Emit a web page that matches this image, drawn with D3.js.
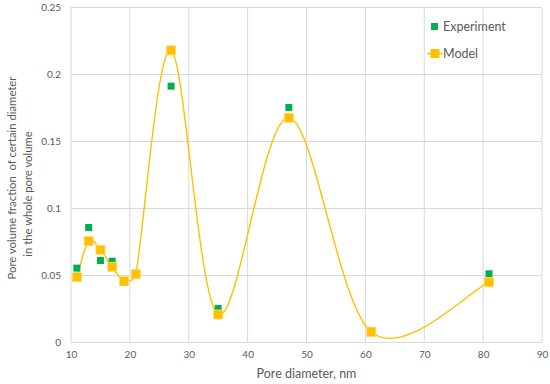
<!DOCTYPE html>
<html><head><meta charset="utf-8">
<script src="https://cdn.jsdelivr.net/npm/d3@7"></script>
<style>
html,body{margin:0;padding:0;background:#fff;}
svg text{font-family:Lato,"Open Sans",sans-serif;fill:#595959;}
</style></head>
<body><svg id="c" width="550" height="384"></svg>
<script>
const diameters = [11, 13, 15, 17, 19, 21, 27, 35, 47, 61, 81];
const experiment = [0.0555, 0.0858, 0.0612, 0.0607, 0.0448, 0.0505, 0.1913, 0.0254, 0.1754, 0.0090, 0.0513];
const model = [0.0488, 0.0757, 0.0692, 0.0565, 0.0458, 0.0510, 0.2180, 0.0209, 0.1677, 0.0078, 0.0450];
const xTicks = [10, 20, 30, 40, 50, 60, 70, 80, 90];
const yTicks = [0, 0.05, 0.1, 0.15, 0.2, 0.25];
const seriesNames = ["Experiment", "Model"];

const svg = d3.select("#c");
const m = {l: 71, r: 542, t: 7.5, b: 342.5};
const x = d3.scaleLinear().domain([10, 90]).range([m.l, m.r]);
const y = d3.scaleLinear().domain([0, 0.25]).range([m.b, m.t]);
const green = "#00B050", orange = "#FFC000";

// grid
const g = svg.append("g");
g.selectAll("line.v").data(xTicks).join("line")
  .attr("x1", d => x(d)).attr("x2", d => x(d)).attr("y1", m.t).attr("y2", m.b)
  .attr("stroke", "#d9d9d9").attr("stroke-width", 1);
g.selectAll("line.h").data(yTicks).join("line")
  .attr("y1", d => y(d)).attr("y2", d => y(d)).attr("x1", m.l).attr("x2", m.r)
  .attr("stroke", "#d9d9d9").attr("stroke-width", 1);

// axes labels
const xAxis = svg.append("g").attr("transform", `translate(0,${m.b})`)
  .call(d3.axisBottom(x).tickValues(xTicks).tickSize(0).tickPadding(8).tickFormat(d3.format("d")));
xAxis.select(".domain").remove();
xAxis.selectAll("text").attr("font-size", "10px").style("font-family", "Lato, 'Open Sans', sans-serif").attr("fill", "#595959");
const yAxis = svg.append("g").attr("transform", `translate(${m.l},0)`)
  .call(d3.axisLeft(y).tickValues(yTicks).tickSize(0).tickPadding(10).tickFormat(d => d === 0 ? "0" : String(d)));
yAxis.select(".domain").remove();
yAxis.selectAll("text").attr("font-size", "10px").style("font-family", "Lato, 'Open Sans', sans-serif").attr("fill", "#595959");

// model line: smoothed (Catmull-Rom style with control-length limiting, like a spreadsheet smooth line)
const pts = diameters.map((d, i) => [x(d), y(model[i])]);
function smoothPath(p) {
  const n = p.length, path = d3.path();
  const dist = (a, b) => Math.hypot(b[0] - a[0], b[1] - a[1]);
  const tan = i => {
    const a = p[Math.max(0, i - 1)], b = p[Math.min(n - 1, i + 1)];
    return [(b[0] - a[0]) / 6, (b[1] - a[1]) / 6];
  };
  const ctrl = (i, dir) => {
    const t = tan(i), len = Math.hypot(t[0], t[1]);
    const j = dir > 0 ? Math.min(n - 1, i + 1) : Math.max(0, i - 1);
    const seg = dist(p[i], p[j]);
    const s = len > 0 ? Math.min(1, 0.5 * seg / len) : 0;
    return [p[i][0] + dir * t[0] * s, p[i][1] + dir * t[1] * s];
  };
  path.moveTo(p[0][0], p[0][1]);
  for (let i = 0; i < n - 1; i++) {
    const c1 = ctrl(i, 1), c2 = ctrl(i + 1, -1);
    path.bezierCurveTo(c1[0], c1[1], c2[0], c2[1], p[i + 1][0], p[i + 1][1]);
  }
  return path.toString();
}
svg.append("path").attr("d", smoothPath(pts))
  .attr("fill", "none").attr("stroke", orange).attr("stroke-width", 1.4);

// experiment markers
svg.selectAll("rect.e").data(diameters).join("rect")
  .attr("x", d => x(d) - 3.5).attr("y", (d, i) => y(experiment[i]) - 3.5)
  .attr("width", 7).attr("height", 7).attr("fill", green);
// model markers
svg.selectAll("rect.m").data(diameters).join("rect")
  .attr("x", d => x(d) - 4.5).attr("y", (d, i) => y(model[i]) - 4.5)
  .attr("width", 9).attr("height", 9).attr("fill", orange).attr("stroke", "#ffd966").attr("stroke-width", 0.8);

// legend
const lg = svg.append("g");
lg.append("rect").attr("x", 431).attr("y", 23).attr("width", 7).attr("height", 7).attr("fill", green);
lg.append("text").attr("x", 443).attr("y", 31).attr("font-size", "12.5px").text(seriesNames[0]);
lg.append("line").attr("x1", 427).attr("x2", 443).attr("y1", 53.5).attr("y2", 53.5).attr("stroke", orange).attr("stroke-width", 1.5);
lg.append("rect").attr("x", 430.5).attr("y", 49).attr("width", 9).attr("height", 9).attr("fill", orange);
lg.append("text").attr("x", 443).attr("y", 58).attr("font-size", "12.5px").text(seriesNames[1]);

// axis titles
svg.append("text").attr("x", (m.l + m.r) / 2).attr("y", 378).attr("text-anchor", "middle")
  .attr("font-size", "12.5px").text("Pore diameter, nm");
svg.append("text").attr("transform", "translate(16,178) rotate(-90)")
  .attr("text-anchor", "middle").attr("font-size", "11.3px")
  .attr("xml:space", "preserve").style("white-space", "pre")
  .text("Pore volume fraction  of certain diameter");
svg.append("text").attr("transform", "translate(32,194) rotate(-90)")
  .attr("text-anchor", "middle").attr("font-size", "11.3px")
  .text("in the whole pore volume");
</script></body></html>
